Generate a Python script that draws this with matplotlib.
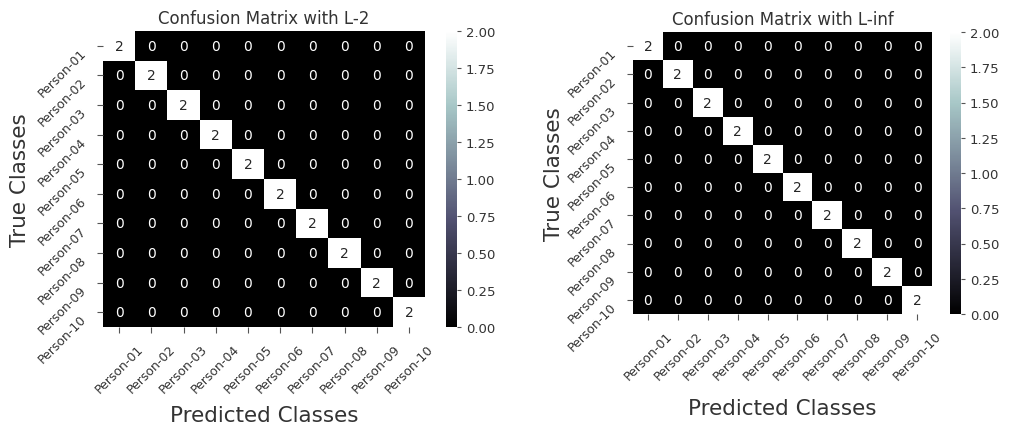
import matplotlib
matplotlib.use("Agg")
import matplotlib.pyplot as plt
import seaborn as sns
import numpy as np

classes = ["Person-01", "Person-02", "Person-03", "Person-04", "Person-05",
           "Person-06", "Person-07", "Person-08", "Person-09", "Person-10"]

cm_l2 = [
    [2, 0, 0, 0, 0, 0, 0, 0, 0, 0],
    [0, 2, 0, 0, 0, 0, 0, 0, 0, 0],
    [0, 0, 2, 0, 0, 0, 0, 0, 0, 0],
    [0, 0, 0, 2, 0, 0, 0, 0, 0, 0],
    [0, 0, 0, 0, 2, 0, 0, 0, 0, 0],
    [0, 0, 0, 0, 0, 2, 0, 0, 0, 0],
    [0, 0, 0, 0, 0, 0, 2, 0, 0, 0],
    [0, 0, 0, 0, 0, 0, 0, 2, 0, 0],
    [0, 0, 0, 0, 0, 0, 0, 0, 2, 0],
    [0, 0, 0, 0, 0, 0, 0, 0, 0, 2],
]

cm_linf = [
    [2, 0, 0, 0, 0, 0, 0, 0, 0, 0],
    [0, 2, 0, 0, 0, 0, 0, 0, 0, 0],
    [0, 0, 2, 0, 0, 0, 0, 0, 0, 0],
    [0, 0, 0, 2, 0, 0, 0, 0, 0, 0],
    [0, 0, 0, 0, 2, 0, 0, 0, 0, 0],
    [0, 0, 0, 0, 0, 2, 0, 0, 0, 0],
    [0, 0, 0, 0, 0, 0, 2, 0, 0, 0],
    [0, 0, 0, 0, 0, 0, 0, 2, 0, 0],
    [0, 0, 0, 0, 0, 0, 0, 0, 2, 0],
    [0, 0, 0, 0, 0, 0, 0, 0, 0, 2],
]

titles = ["Confusion Matrix with L-2", "Confusion Matrix with L-inf"]
cbar_ticks = [0.0, 0.25, 0.5, 0.75, 1.0, 1.25, 1.5, 1.75, 2.0]

W, H = 1009, 431
fig = plt.figure(figsize=(W / 100, H / 100), dpi=100)


def px_axes(x0, x1, y0, y1):
    return fig.add_axes([x0 / W, 1 - y1 / H, (x1 - x0) / W, (y1 - y0) / H])


layouts = [
    dict(ax=(103, 425, 32, 328), cb=(446, 457, 32, 328), ylab=-0.226, xlab=-0.263),
    dict(ax=(633, 932, 33, 315), cb=(950, 961, 33, 315), ylab=-0.231, xlab=-0.298),
]

txt = "#333333"
for data, title, lay in zip([cm_l2, cm_linf], titles, layouts):
    ax = px_axes(*lay["ax"])
    cax = px_axes(*lay["cb"])
    sns.heatmap(np.array(data), ax=ax, cbar_ax=cax, cmap="bone", vmin=0, vmax=2,
                annot=True, fmt="d", annot_kws={"size": 10},
                xticklabels=classes, yticklabels=classes)
    ax.set_xticklabels(classes, rotation=45, ha="center", fontsize=9, color=txt)
    ax.set_yticklabels(classes, rotation=45, ha="right", va="top", fontsize=9, color=txt)
    ax.tick_params(axis="x", length=4, pad=7, color="#555555")
    ax.tick_params(axis="y", length=4, pad=6, color="#555555")
    ax.set_title(title, fontsize=12, color=txt)
    ax.set_xlabel("Predicted Classes", fontsize=15.5, color=txt)
    ax.set_ylabel("True Classes", fontsize=15.5, color=txt)
    ax.yaxis.set_label_coords(lay["ylab"], 0.5)
    ax.xaxis.set_label_coords(0.5, lay["xlab"])
    cax.set_yticks(cbar_ticks)
    cax.set_yticklabels([f"{t:.2f}" for t in cbar_ticks], fontsize=9.5, color=txt)
    cax.tick_params(length=3, color="#555555")

fig.savefig("out.png", dpi=100)
